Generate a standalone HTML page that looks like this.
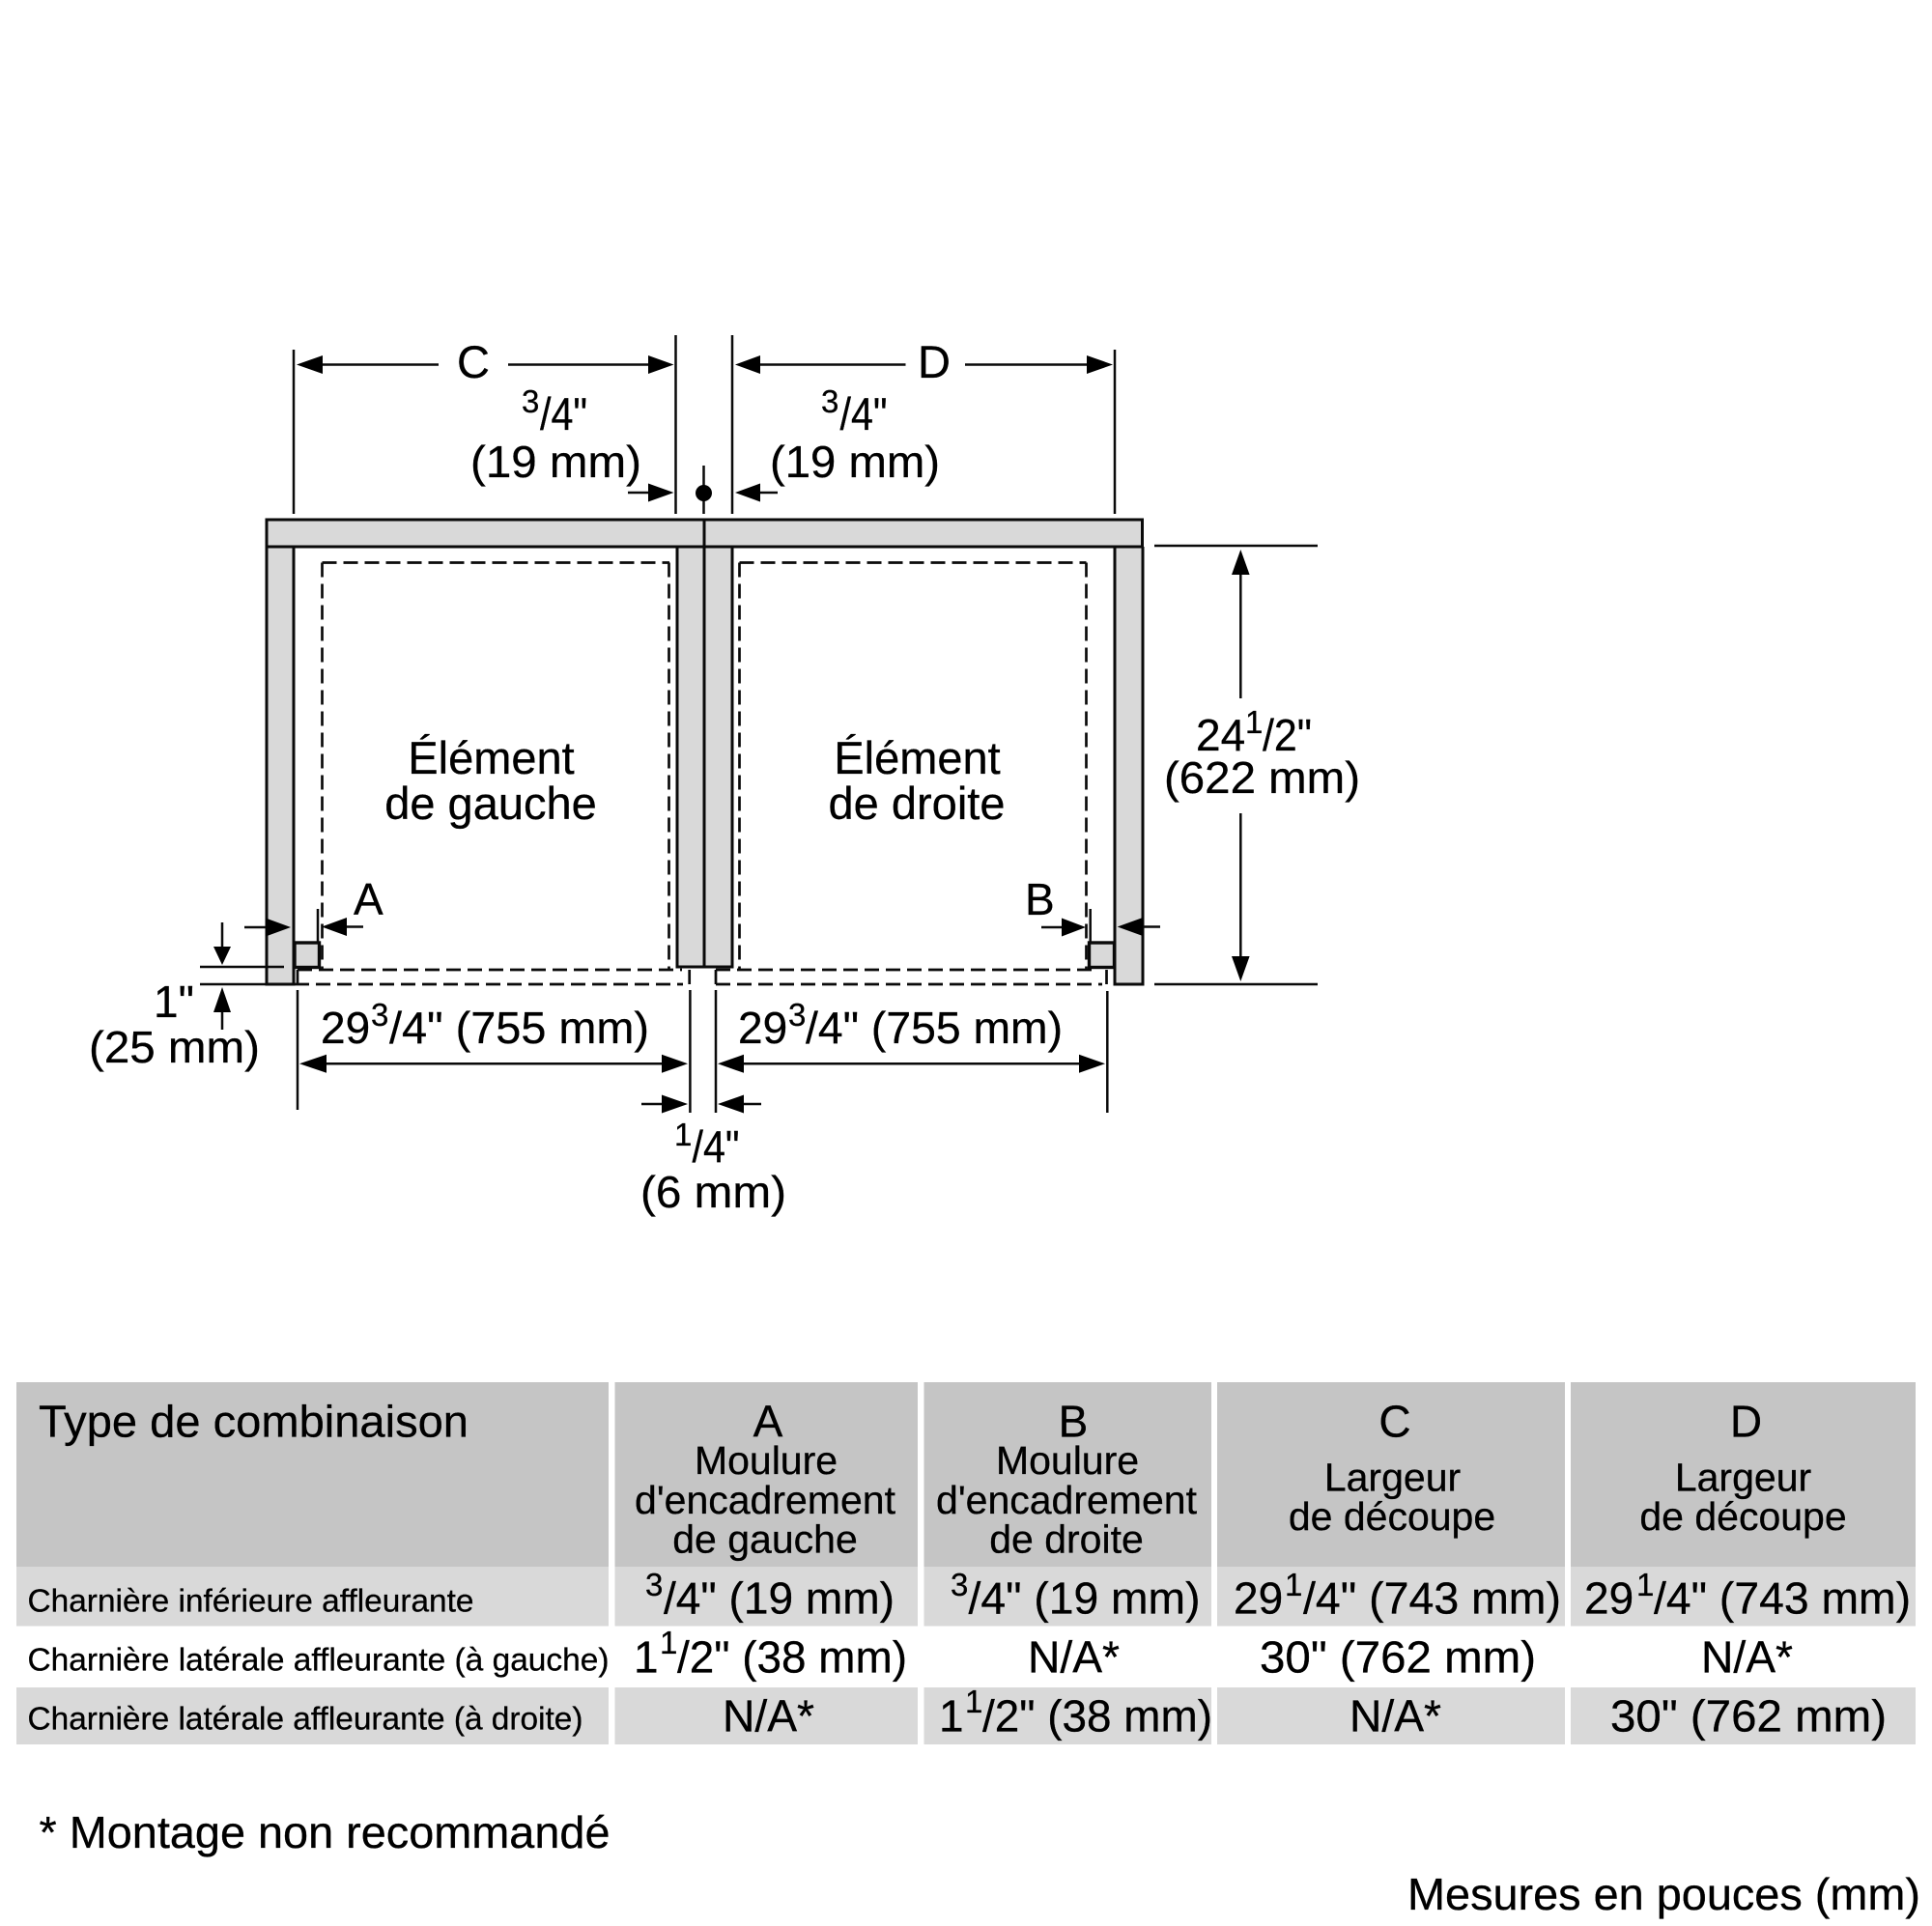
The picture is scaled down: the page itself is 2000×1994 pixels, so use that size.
<!DOCTYPE html>
<html><head><meta charset="utf-8"><style>
html,body{margin:0;padding:0;background:#fff}
svg{display:block}
text{font-family:"Liberation Sans",Arial,sans-serif;fill:#000;font-size:46px;stroke:#000;stroke-width:.3}
.s{font-size:33px}.h{font-size:41px}.l{font-size:33px}.b{font-size:47px}
.m{text-anchor:middle}
</style></head><body>
<svg xmlns="http://www.w3.org/2000/svg" width="2000" height="1994" viewBox="0 0 2000 1994">
<rect width="2000" height="1994" fill="#fff"/>
<!-- table -->
<g fill="#c5c5c5">
<rect x="17" y="1431" width="613" height="191"/><rect x="636.5" y="1431" width="313.5" height="191"/><rect x="956.5" y="1431" width="297.5" height="191"/><rect x="1260" y="1431" width="360" height="191"/><rect x="1626" y="1431" width="357" height="191"/>
</g>
<g fill="#d9d9d9">
<rect x="17" y="1622" width="613" height="61.5"/><rect x="636.5" y="1622" width="313.5" height="61.5"/><rect x="956.5" y="1622" width="297.5" height="61.5"/><rect x="1260" y="1622" width="360" height="61.5"/><rect x="1626" y="1622" width="357" height="61.5"/>
<rect x="17" y="1747" width="613" height="59"/><rect x="636.5" y="1747" width="313.5" height="59"/><rect x="956.5" y="1747" width="297.5" height="59"/><rect x="1260" y="1747" width="360" height="59"/><rect x="1626" y="1747" width="357" height="59"/>
<!-- frame fills -->
<rect x="276" y="538" width="906" height="28"/><rect x="276" y="566" width="28" height="453"/><rect x="1154" y="566" width="29" height="453"/><rect x="701" y="566" width="57" height="435"/><rect x="305" y="976" width="25" height="25"/><rect x="1128" y="976" width="25" height="25"/>
</g>
<!-- frame outline -->
<g fill="none" stroke="#0a0a0a" stroke-width="3">
<rect x="276" y="538" width="906.5" height="28"/>
<path d="M729 538V1001M276 566V1019H304V566M1154 566V1019H1183V566M701 566V1001H758V566"/>
<rect x="305" y="976" width="25.5" height="25.5" stroke-width="3.4"/>
<rect x="1127.5" y="976" width="26" height="25.5" stroke-width="3.4"/>
</g>
<!-- dashed -->
<g fill="none" stroke="#0a0a0a" stroke-width="2.7" stroke-dasharray="15 7">
<path d="M333.5 582.5H693M333.5 582.5V1004M692.5 582.5V1004M308 1004H706M305 1019H707M713.7 1004V1019M308 1004V1019"/>
<path d="M765.5 582.5H1124.5M765.5 582.5V1004M1124.5 582.5V1004M741 1004H1137M741 1019H1141M741 1004V1019M1145.5 1004V1019"/>
</g>
<!-- dimension lines -->
<g fill="none" stroke="#0a0a0a" stroke-width="2.5">
<path d="M304 362V532M699.5 347V532M758 347V532M1154 362V532"/>
<path d="M320 377.5H454M526 377.5H680M775 377.5H937.5M999 377.5H1135"/>
<path d="M650 510H680M780 510H805M728.5 482V532"/>
<path d="M1195 565H1364M1195 1019H1364M1284.3 590V723M1284.3 842V1000"/>
<path d="M207 1001H294M207 1019H275M230 955V985M230 1035V1066"/>
<path d="M253 960H285M345 959.5H376M329 941V975M1078 960H1110M1170 959.5H1201M1128.7 941V975"/>
<path d="M308 1025V1149M714.4 1025V1152M741 1025V1152M1146.3 1026V1152"/>
<path d="M325 1101.3H695M755 1101.3H1130M664 1143H695M755 1143H788"/>
</g>
<ellipse cx="728.5" cy="510.5" rx="8.5" ry="8.5" fill="#000"/>
<!-- arrowheads -->
<g fill="#000">
<polygon points="307,377.5 334,368 334,387"/><polygon points="697.5,377.5 671,368 671,387"/>
<polygon points="761,377.5 787,368 787,387"/><polygon points="1152,377.5 1125,368 1125,387"/>
<polygon points="697.5,510 671,500.5 671,519.5"/><polygon points="761,510 787,500.5 787,519.5"/>
<polygon points="1284.3,569 1275,595 1293.6,595"/><polygon points="1284.3,1016 1275,990 1293.6,990"/>
<polygon points="301,960 275,950.5 275,969.5"/><polygon points="333,959.5 359,950 359,969"/>
<polygon points="1124,960 1099,950.5 1099,969.5"/><polygon points="1156.7,959.5 1183,950 1183,969"/>
<polygon points="230,999 221,980 239,980"/><polygon points="230,1022 221,1048 239,1048"/>
<polygon points="310,1101.3 338,1091.8 338,1110.8"/><polygon points="712,1101.3 685,1091.8 685,1110.8"/>
<polygon points="743,1101.3 770,1091.8 770,1110.8"/><polygon points="1144,1101.3 1117,1091.8 1117,1110.8"/>
<polygon points="712,1143 685,1133.5 685,1152.5"/><polygon points="743,1143 770,1133.5 770,1152.5"/>
</g>
<!-- diagram text -->
<text x="490" y="391" class="m b">C</text>
<text x="967" y="391" class="m b">D</text>
<text x="540" y="427" class="s">3</text><text x="559" y="445" textLength="49" lengthAdjust="spacingAndGlyphs" class="b">/4"</text>
<text x="487" y="494" textLength="177" lengthAdjust="spacingAndGlyphs">(19 mm)</text>
<text x="850" y="427" class="s">3</text><text x="869.5" y="445" textLength="49" lengthAdjust="spacingAndGlyphs" class="b">/4"</text>
<text x="797" y="494" textLength="176" lengthAdjust="spacingAndGlyphs">(19 mm)</text>
<text x="508.5" y="801" class="m b">Élément</text><text x="508" y="848" class="m b">de gauche</text>
<text x="949.5" y="801" class="m b">Élément</text><text x="949" y="848" class="m b">de droite</text>
<text x="366" y="947">A</text><text x="1061" y="947">B</text>
<text x="1238" y="777">24</text><text x="1289" y="759" class="s">1</text><text x="1307" y="777" textLength="51" lengthAdjust="spacingAndGlyphs">/2"</text>
<text x="1205" y="821" textLength="203" lengthAdjust="spacingAndGlyphs">(622 mm)</text>
<text x="159" y="1053">1"</text>
<text x="92" y="1100" textLength="177" lengthAdjust="spacingAndGlyphs">(25 mm)</text>
<text x="332" y="1080">29</text><text x="384" y="1062" class="s">3</text><text x="403" y="1080" textLength="269" lengthAdjust="spacingAndGlyphs">/4" (755 mm)</text>
<text x="764" y="1080">29</text><text x="816" y="1062" class="s">3</text><text x="834" y="1080" textLength="266" lengthAdjust="spacingAndGlyphs">/4" (755 mm)</text>
<text x="698" y="1186" class="s">1</text><text x="716.5" y="1203" textLength="49" lengthAdjust="spacingAndGlyphs">/4"</text>
<text x="663" y="1250" textLength="151" lengthAdjust="spacingAndGlyphs">(6 mm)</text>
<!-- table text -->
<text x="40" y="1487.5" textLength="445" lengthAdjust="spacingAndGlyphs">Type de combinaison</text>
<text x="795" y="1487.5" class="m">A</text>
<text x="793" y="1526" class="h m">Moulure</text><text x="792" y="1567" class="h m">d'encadrement</text><text x="792" y="1607.5" class="h m">de gauche</text>
<text x="1111" y="1487.5" class="m">B</text>
<text x="1105" y="1526" class="h m">Moulure</text><text x="1104" y="1567" class="h m">d'encadrement</text><text x="1104" y="1607.5" class="h m">de droite</text>
<text x="1444" y="1487.5" class="m">C</text>
<text x="1441.5" y="1543.5" class="h m">Largeur</text><text x="1441" y="1584" class="h m">de découpe</text>
<text x="1807.5" y="1487.5" class="m">D</text>
<text x="1804.5" y="1543.5" class="h m">Largeur</text><text x="1804.5" y="1584" class="h m">de découpe</text>
<text x="28.5" y="1668.5" class="l" textLength="462" lengthAdjust="spacingAndGlyphs">Charnière inférieure affleurante</text>
<text x="28.5" y="1729.5" class="l" textLength="602" lengthAdjust="spacingAndGlyphs">Charnière latérale affleurante (à gauche)</text>
<text x="28.5" y="1790.5" class="l" textLength="575" lengthAdjust="spacingAndGlyphs">Charnière latérale affleurante (à droite)</text>
<text x="668" y="1652" class="s">3</text><text x="687" y="1670.5" textLength="239" lengthAdjust="spacingAndGlyphs">/4" (19 mm)</text>
<text x="656" y="1731.5">1</text><text x="683" y="1712" class="s">1</text><text x="701" y="1731.5" textLength="238" lengthAdjust="spacingAndGlyphs">/2" (38 mm)</text>
<text x="748" y="1792.5" textLength="95" lengthAdjust="spacingAndGlyphs">N/A*</text>
<text x="984" y="1652" class="s">3</text><text x="1002.5" y="1670.5" textLength="240" lengthAdjust="spacingAndGlyphs">/4" (19 mm)</text>
<text x="1064" y="1731.5" textLength="95" lengthAdjust="spacingAndGlyphs">N/A*</text>
<text x="972" y="1792.5">1</text><text x="999" y="1773" class="s">1</text><text x="1017" y="1792.5" textLength="238" lengthAdjust="spacingAndGlyphs">/2" (38 mm)</text>
<text x="1277" y="1670.5">29</text><text x="1330" y="1652" class="s">1</text><text x="1349" y="1670.5" textLength="267" lengthAdjust="spacingAndGlyphs">/4" (743 mm)</text>
<text x="1304" y="1731.5" textLength="286" lengthAdjust="spacingAndGlyphs">30" (762 mm)</text>
<text x="1397" y="1792.5" textLength="95" lengthAdjust="spacingAndGlyphs">N/A*</text>
<text x="1640" y="1670.5">29</text><text x="1694" y="1652" class="s">1</text><text x="1712" y="1670.5" textLength="266" lengthAdjust="spacingAndGlyphs">/4" (743 mm)</text>
<text x="1761" y="1731.5" textLength="95" lengthAdjust="spacingAndGlyphs">N/A*</text>
<text x="1667" y="1792.5" textLength="286" lengthAdjust="spacingAndGlyphs">30" (762 mm)</text>
<!-- footer -->
<text x="40.5" y="1913" textLength="591" lengthAdjust="spacingAndGlyphs">* Montage non recommandé</text>
<text x="1457" y="1977" textLength="531" lengthAdjust="spacingAndGlyphs">Mesures en pouces (mm)</text>
</svg>
</body></html>
